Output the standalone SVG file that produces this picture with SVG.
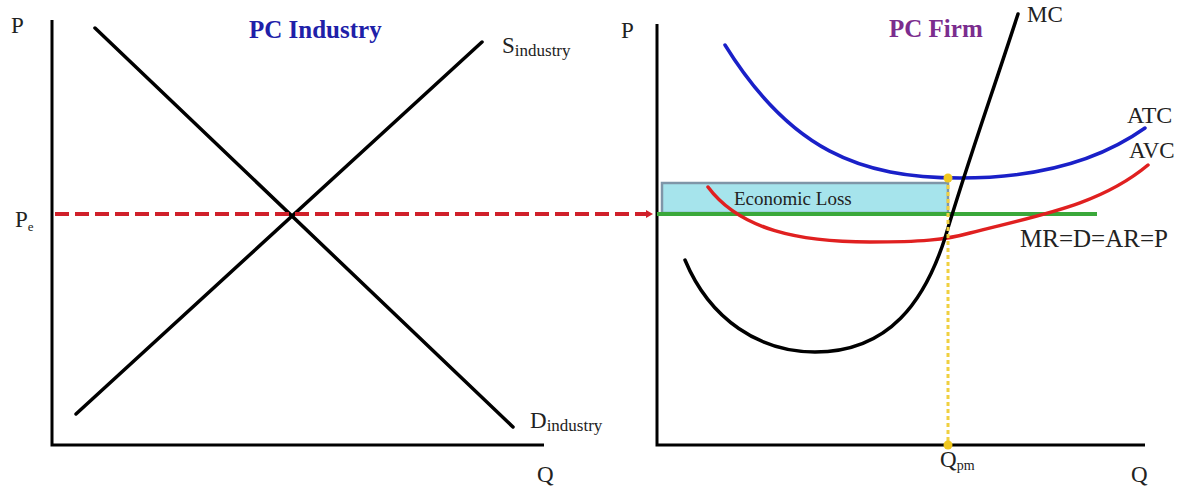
<svg xmlns="http://www.w3.org/2000/svg" width="1191" height="492" viewBox="0 0 1191 492">
<style>
.ax{stroke:#000;stroke-width:3;fill:none}
.ln{stroke:#000;stroke-width:3.5;fill:none;stroke-linecap:round}
.t{font-family:"Liberation Serif",serif;fill:#222;font-size:23px}
.sub{font-size:17px}
.title{font-family:"Liberation Serif",serif;font-weight:bold;font-size:25px}
</style>
<defs>
<marker id="ah" markerWidth="8" markerHeight="8" refX="6" refY="4" orient="auto" markerUnits="userSpaceOnUse">
<path d="M0,0 L7,4 L0,8 z" fill="#d0202a"/>
</marker>
</defs>
<rect width="1191" height="492" fill="#fff"/>
<g id="left-axes">
<path class="ax" d="M52,20 V445 H544"/>
<text class="t" x="11" y="33">P</text>
<text class="t" x="537" y="482">Q</text>
<text class="t" x="15" y="227">P<tspan font-size="13" dy="4">e</tspan></text>
</g>
<g id="industry-title"><text class="title" x="249" y="38" fill="#2020a8">PC Industry</text></g>
<g id="demand">
<line class="ln" x1="95" y1="28" x2="513" y2="427"/>
<text class="t" x="530" y="428">D<tspan class="sub" dy="3">industry</tspan></text>
</g>
<g id="supply">
<line class="ln" x1="76" y1="414" x2="482" y2="42"/>
<text class="t" x="502" y="53">S<tspan class="sub" dy="3">industry</tspan></text>
</g>
<g id="right-axes">
<path class="ax" d="M657,24 V445 H1145"/>
<text class="t" x="621" y="38">P</text>
<text class="t" x="1131" y="482">Q</text>
<text class="t" x="940" y="467">Q<tspan font-size="14" dy="3">pm</tspan></text>
</g>
<g id="firm-title"><text class="title" x="889" y="37" fill="#7b2d8e">PC Firm</text></g>
<g id="loss">
<rect x="662" y="183" width="286" height="30" fill="#a6e4ec" stroke="#7f96a8" stroke-width="2.5"/>
<text class="t" x="734" y="205" fill="#1a3a3a" style="font-size:19px">Economic Loss</text>
</g>
<g id="mr">
<line x1="657" y1="214" x2="1097" y2="214" stroke="#3aa83a" stroke-width="4"/>
<text class="t" x="1020" y="247" style="font-size:25px">MR=D=AR=P</text>
</g>
<g id="atc">
<path d="M725,45 C790,150 860,178 960,178 C1040,178 1100,160 1145,128" fill="none" stroke="#1a20c8" stroke-width="3.5" stroke-linecap="round"/>
<text class="t" x="1127" y="123" style="font-size:24px">ATC</text>
</g>
<g id="avc">
<path d="M708,187 C740,230 800,242 870,242 C920,242 945,240 970,233 C1040,215 1100,205 1148,165" fill="none" stroke="#e02020" stroke-width="3.5" stroke-linecap="round"/>
<text class="t" x="1129" y="158">AVC</text>
</g>
<g id="mc">
<path d="M685,260 C710,320 760,352 815,352 C890,352 925,300 945,238 C965,170 990,100 1018,14" fill="none" stroke="#000" stroke-width="3.5" stroke-linecap="round"/>
<text class="t" x="1027" y="22">MC</text>
</g>
<g id="connectors">
<line x1="55" y1="214" x2="652" y2="214" stroke="#d0202a" stroke-width="4" stroke-dasharray="14,6" marker-end="url(#ah)"/>
<line x1="948" y1="178" x2="948" y2="445" stroke="#f0d040" stroke-width="3" stroke-dasharray="4,3"/>
<circle cx="948" cy="178" r="4.5" fill="#f0c820"/>
<circle cx="948" cy="445" r="4.5" fill="#f0c820"/>
</g>
</svg>
